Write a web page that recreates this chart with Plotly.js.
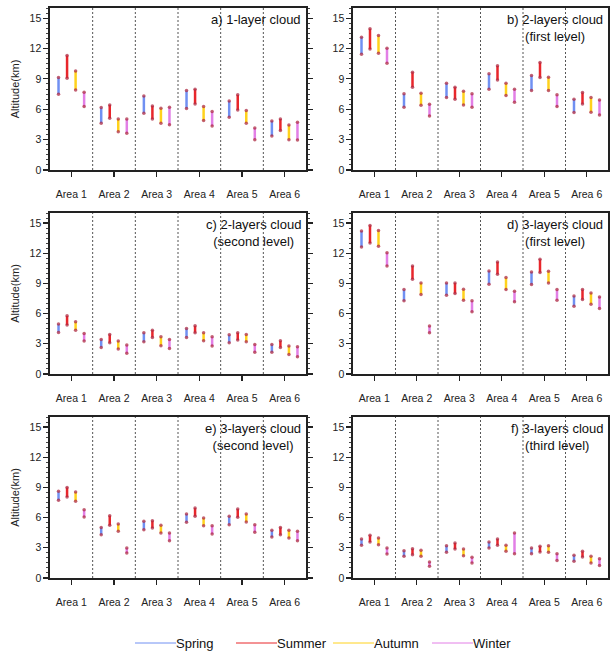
<!DOCTYPE html>
<html>
<head>
<meta charset="utf-8">
<script src="https://cdn.plot.ly/plotly-3.0.1.min.js"></script>
<style>
  html, body { margin: 0; padding: 0; background: #fff; }
  #chart { width: 610px; height: 652px; }
</style>
</head>
<body>
<div id="chart"></div>
<script>
const areas = ["Area 1", "Area 2", "Area 3", "Area 4", "Area 5", "Area 6"];
const seasons = ["Spring", "Summer", "Autumn", "Winter"];
const panel_titles = [
    "a) 1-layer cloud",
    "b) 2-layers cloud<br>(first level)",
    "c) 2-layers cloud<br>(second level)",
    "d) 3-layers cloud<br>(first level)",
    "e) 3-layers cloud<br>(second level)",
    "f) 3-layers cloud<br>(third level)"
];

/* [bottom, top] altitude (km) for each area */
const a_spring = [[7.48, 9.13], [4.62, 6.17], [5.60, 7.32], [6.07, 7.85], [5.21, 6.82], [3.36, 4.85]];
const a_summer = [[9.07, 11.31], [5.11, 6.43], [5.04, 6.33], [6.53, 7.98], [5.93, 7.42], [3.89, 5.04]];
const a_autumn = [[7.91, 9.79], [3.79, 5.04], [4.62, 6.10], [4.88, 6.26], [4.62, 5.87], [3.00, 4.45]];
const a_winter = [[6.26, 7.68], [3.63, 5.04], [4.48, 6.20], [4.35, 5.77], [3.00, 4.15], [2.97, 4.71]];

const b_spring = [[11.44, 13.12], [6.20, 7.52], [7.15, 8.57], [7.98, 9.50], [7.85, 9.33], [5.67, 6.99]];
const b_summer = [[11.94, 13.95], [8.18, 9.66], [6.99, 8.18], [8.90, 10.29], [9.13, 10.62], [6.53, 7.65]];
const b_autumn = [[11.54, 13.29], [6.40, 7.58], [6.43, 7.78], [7.35, 8.57], [7.85, 9.17], [5.70, 7.15]];
const b_winter = [[10.55, 12.03], [5.34, 6.50], [6.20, 7.52], [6.69, 7.98], [6.26, 7.42], [5.44, 6.92]];

const c_spring = [[4.13, 4.96], [2.64, 3.44], [3.20, 4.10], [3.63, 4.53], [3.11, 3.90], [2.15, 2.94]];
const c_summer = [[4.86, 5.78], [3.11, 3.93], [3.63, 4.36], [4.10, 4.79], [3.37, 4.10], [2.64, 3.30]];
const c_autumn = [[4.36, 5.19], [2.48, 3.27], [2.81, 3.70], [3.30, 4.10], [3.20, 3.93], [1.95, 2.78]];
const c_winter = [[3.27, 4.03], [2.05, 2.87], [2.54, 3.44], [2.78, 3.70], [2.15, 2.94], [1.72, 2.71]];

const d_spring = [[12.62, 14.21], [7.27, 8.39], [7.83, 9.05], [8.92, 10.24], [8.89, 10.14], [6.74, 7.76]];
const d_summer = [[13.02, 14.77], [9.42, 10.74], [7.99, 9.05], [9.91, 11.13], [10.08, 11.40], [7.40, 8.39]];
const d_autumn = [[12.69, 14.27], [7.90, 9.05], [7.33, 8.42], [8.39, 9.58], [9.05, 10.21], [6.94, 8.06]];
const d_winter = [[10.74, 12.06], [4.10, 4.76], [6.18, 7.27], [7.17, 8.23], [7.33, 8.39], [6.51, 7.66]];

const e_spring = [[7.72, 8.61], [4.30, 5.03], [4.80, 5.63], [5.53, 6.36], [5.30, 6.13], [4.07, 4.74]];
const e_summer = [[8.05, 9.00], [5.23, 6.19], [4.97, 5.70], [6.13, 6.95], [6.03, 6.85], [4.30, 5.03]];
const e_autumn = [[7.62, 8.54], [4.64, 5.36], [4.47, 5.23], [5.20, 5.96], [5.56, 6.36], [3.97, 4.74]];
const e_winter = [[6.06, 6.79], [2.48, 2.98], [3.71, 4.47], [4.37, 5.20], [4.54, 5.30], [3.71, 4.64]];

const f_spring = [[3.25, 3.87], [2.15, 2.72], [2.55, 3.21], [2.98, 3.58], [2.42, 2.98], [1.66, 2.25]];
const f_summer = [[3.58, 4.24], [2.32, 2.91], [2.88, 3.48], [3.25, 3.87], [2.58, 3.15], [2.09, 2.65]];
const f_autumn = [[3.31, 3.97], [2.15, 2.75], [2.22, 2.88], [2.65, 3.25], [2.55, 3.21], [1.49, 2.15]];
const f_winter = [[2.38, 2.98], [1.16, 1.59], [1.49, 2.05], [2.42, 4.47], [1.75, 2.42], [1.23, 1.92]];

const panels = [
    [a_spring, a_summer, a_autumn, a_winter],
    [b_spring, b_summer, b_autumn, b_winter],
    [c_spring, c_summer, c_autumn, c_winter],
    [d_spring, d_summer, d_autumn, d_winter],
    [e_spring, e_summer, e_autumn, e_winter],
    [f_spring, f_summer, f_autumn, f_winter]
];

const season_colors = ["#7090f2", "#e8262b", "#ffd21c", "#e27fe6"];
const season_offset = [-0.3, -0.1, 0.1, 0.3];
const end_color = "rgba(175,45,70,0.75)";
const font_family = "Liberation Sans, Arial, Helvetica, sans-serif";
const axis_color = "#222";

// pixel boxes of the panels in the 610x652 figure
const W = 610, H = 652;
const col_px = [[50, 306], [353, 608]];
const row_px = [[8, 170], [213, 374], [417, 578]];
// legend key: line start per season, line length, baseline row
const legend_px = [135, 236, 333, 432];
const legend_line = 41, legend_y = 643;

const traces = [];
const layout = {
    width: W, height: H,
    margin: {l: 0, r: 0, t: 0, b: 0},
    paper_bgcolor: "#fff", plot_bgcolor: "#fff",
    font: {family: font_family, size: 10.5, color: axis_color},
    showlegend: false,
    shapes: [],
    annotations: []
};

panels.forEach((series, p) => {
    const n = p + 1;
    const xa = "x" + (n === 1 ? "" : n);
    const ya = "y" + (n === 1 ? "" : n);
    const col = p % 2, row = Math.floor(p / 2);

    series.forEach((ranges, s) => {
        const xs = [], ys = [];
        ranges.forEach((r, i) => {
            const xpos = (i + 1) + season_offset[s];
            xs.push(xpos, xpos, null);
            ys.push(r[0], r[1], null);
        });
        traces.push({
            type: "scatter", mode: "lines+markers", name: seasons[s],
            x: xs, y: ys, xaxis: xa, yaxis: ya,
            line: {color: season_colors[s], width: 2.5},
            marker: {color: end_color, size: 3.5},
            hoverinfo: "skip"
        });
    });

    const xkey = "xaxis" + (n === 1 ? "" : n);
    const ykey = "yaxis" + (n === 1 ? "" : n);
    layout[xkey] = {
        domain: [col_px[col][0] / W, col_px[col][1] / W],
        anchor: ya, range: [0.5, 6.5], fixedrange: true,
        tickvals: [1, 2, 3, 4, 5, 6], ticktext: areas,
        ticks: "outside", ticklen: 5, tickwidth: 1.2, tickcolor: axis_color,
        ticklabelstandoff: 9,
        showgrid: false, zeroline: false,
        showline: true, mirror: true, linecolor: axis_color, linewidth: 1.6
    };
    layout[ykey] = {
        domain: [1 - row_px[row][1] / H, 1 - row_px[row][0] / H],
        anchor: xa, range: [0, 16], fixedrange: true,
        tick0: 0, dtick: 3,
        ticks: "outside", ticklen: 5, tickwidth: 1.2, tickcolor: axis_color,
        minor: {dtick: 0.5, ticks: "outside", ticklen: 2.5, tickwidth: 1, tickcolor: "#444"},
        showgrid: false, zeroline: false,
        showline: true, mirror: "allticks", linecolor: axis_color, linewidth: 1.6,
        title: col === 0 ? {text: "Altitude(km)", font: {size: 11}, standoff: 8} : {text: ""}
    };

    // dotted separators between areas
    for (let k = 1; k < areas.length; k++) {
        layout.shapes.push({
            type: "line", xref: xa, yref: ya + " domain",
            x0: k + 0.5, x1: k + 0.5, y0: 0, y1: 1,
            line: {color: "#555", width: 1, dash: "2px,2px"}
        });
    }

    layout.annotations.push({
        xref: xa + " domain", yref: ya + " domain",
        x: 0.99, y: 0.985, xanchor: "right", yanchor: "top",
        text: panel_titles[p], showarrow: false, align: "center",
        font: {size: 13, color: "#111"}
    });
});

// legend along the bottom, drawn as paper shapes + labels
seasons.forEach((name, s) => {
    const x0 = legend_px[s] / W, x1 = (legend_px[s] + legend_line) / W;
    const yy = 1 - legend_y / H;
    layout.shapes.push({
        type: "line", xref: "paper", yref: "paper",
        x0: x0, x1: x1, y0: yy, y1: yy,
        line: {color: season_colors[s], width: 1}
    });
    layout.annotations.push({
        xref: "paper", yref: "paper", x: x1, y: yy,
        xanchor: "left", yanchor: "middle", xshift: -2,
        text: name, showarrow: false,
        font: {size: 13, color: "#111"}
    });
});

Plotly.newPlot("chart", traces, layout, {staticPlot: true, displayModeBar: false});
</script>
</body>
</html>
